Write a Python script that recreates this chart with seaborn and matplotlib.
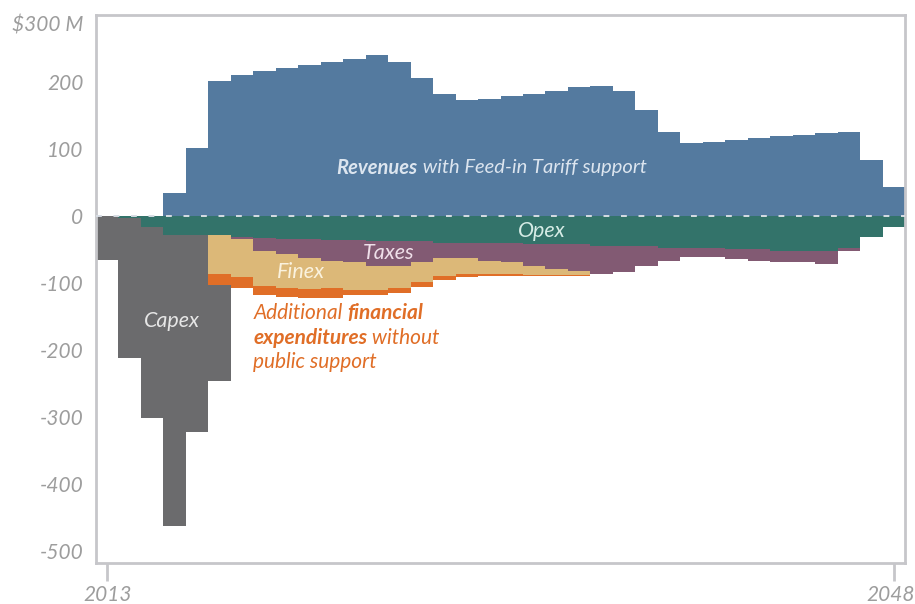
import matplotlib
matplotlib.use("Agg")
import numpy as np
import seaborn as sns
import matplotlib.pyplot as plt
from matplotlib import font_manager, transforms

# values in $ million
years = list(range(2013, 2049))
revenues = [0, 0, 0, 35, 102, 202, 211, 216, 221, 225, 230, 235, 240, 230, 206, 182, 173, 175,
            179, 182, 187, 192, 194, 187, 158, 126, 109, 111, 114, 117, 119, 121, 124, 126, 84, 44]
opex = [0, 3.5, 17, 28.5, 28.5, 28.5, 32, 33, 35, 35, 36, 36, 37, 37, 37, 41, 41, 41,
        41, 42.5, 42.5, 42.5, 45, 45, 45, 48, 48, 48, 49.5, 49.5, 52, 52, 52, 48, 31, 16]
taxes = [0, 0, 0, 0, 0, 0, 3, 19, 22, 27, 31, 33, 37, 37, 32, 21, 21, 26,
         28, 32, 37, 39, 42, 39, 29, 19, 13.5, 13.5, 15, 18, 17, 17, 20, 4, 0, 0]
finex = [0, 0, 0, 0, 0, 58, 56, 53, 51, 47, 41, 41, 36, 34, 30, 27, 25, 20,
         18, 13, 8, 6, 0, 0, 0, 0, 0, 0, 0, 0, 0, 0, 0, 0, 0, 0]
additional = [0, 0, 0, 0, 0, 16.5, 17, 13.5, 12.5, 13, 14, 8.5, 8.5, 6.5, 6.5, 7, 4, 2,
              2, 2, 2, 2, 0, 0, 0, 0, 0, 0, 0, 0, 0, 0, 0, 0, 0, 0]
capex = [65, 209, 284, 434, 294, 144, 0, 0, 0, 0, 0, 0, 0, 0, 0, 0, 0, 0,
         0, 0, 0, 0, 0, 0, 0, 0, 0, 0, 0, 0, 0, 0, 0, 0, 0, 0]

ytick_values = [-500, -400, -300, -200, -100, 0, 100, 200, 300]
ytick_labels = ["-500", "-400", "-300", "-200", "-100", "0", "100", "200", "$300 M"]
xtick_values = [2013, 2048]

colors = {
    "revenues": "#547a9f",
    "opex": "#33736a",
    "taxes": "#825a73",
    "finex": "#dcb878",
    "additional": "#e06e27",
    "capex": "#6b6b6d",
}

sns.set_theme(style="white")
installed = {f.name for f in font_manager.fontManager.ttflist}
narrow = "Liberation Sans Narrow" if "Liberation Sans Narrow" in installed else "Lato"
plt.rcParams["font.family"] = ["Lato", "DejaVu Sans"]

fig = plt.figure(figsize=(9.15, 6.04), dpi=100)
ax = fig.add_axes([96 / 915, 1 - 563 / 604, 809 / 915, 548 / 604])

x = np.array(years)
def draw(vals, bottom, key):
    ax.bar(x, vals, bottom=bottom, width=1.0, color=colors[key],
           linewidth=0, antialiased=False, zorder=2)

draw(revenues, 0, "revenues")
base = np.zeros(len(years))
for key, vals in [("opex", opex), ("taxes", taxes), ("finex", finex),
                  ("additional", additional), ("capex", capex)]:
    v = np.array(vals, dtype=float)
    draw(-v, base, key)
    base = base - v

ax.axhline(0, color="#d6dce3", lw=1.4, dashes=(3, 6), zorder=3)

ax.set_xlim(2012.5, 2048.5)
ax.set_ylim(-518, 300)
for s in ax.spines.values():
    s.set_color("#c6c6ca")
    s.set_linewidth(2)
    s.set_visible(True)

ax.set_yticks(ytick_values)
ax.set_yticklabels(ytick_labels)
ax.set_xticks(xtick_values)
ax.set_xticklabels([str(v) for v in xtick_values])
ax.tick_params(axis="y", length=0, pad=9, labelsize=15, labelcolor="#9d9d9d")
ax.tick_params(axis="x", length=13, width=2, color="#c6c6ca", pad=3,
               labelsize=15, labelcolor="#9d9d9d", bottom=True)
for lab in ax.get_yticklabels() + ax.get_xticklabels():
    lab.set_fontstyle("italic")
ax.get_yticklabels()[-1].set_verticalalignment("top")
last = ax.get_xticklabels()[-1]
last.set_transform(last.get_transform() + transforms.ScaledTranslation(-2 / 72, 0, fig.dpi_scale_trans))

# labels on the areas
lab_kw = dict(family=narrow, style="italic", fontsize=15.5, ha="center", va="center", zorder=5)
ax.text(2032.35, -22, "Opex", color="#d6ece6", **lab_kw)
ax.text(2025.5, -55, "Taxes", color="#efdfe9", **lab_kw)
ax.text(2021.6, -84, "Finex", color="#faf2de", **lab_kw)
ax.text(2015.9, -157, "Capex", color="#e6e6e6", **lab_kw)

fig.canvas.draw()
renderer = fig.canvas.get_renderer()

def rich_line(xd, yd, parts, color, size, center=False):
    # parts: list of (text, weight), laid out one after the other
    widths = []
    for s, w in parts:
        t = ax.text(0, 0, s, family=narrow, style="italic", fontweight=w, fontsize=size)
        widths.append(t.get_window_extent(renderer).width * 72 / fig.dpi)
        t.remove()
    off = -sum(widths) / 2 if center else 0
    for (s, w), wd in zip(parts, widths):
        tr = transforms.offset_copy(ax.transData, fig=fig, x=off, y=0, units="points")
        ax.text(xd, yd, s, transform=tr, family=narrow, style="italic", fontweight=w,
                fontsize=size, color=color, ha="left", va="center", zorder=5)
        off += wd

rich_line(2030.1, 72, [("Revenues", "bold"), (" with Feed-in Tariff support", "normal")],
          "#dce5ef", 14.5, center=True)
orange = "#e06e27"
rich_line(2019.5, -145, [("Additional ", "normal"), ("financial", "bold")], orange, 15)
rich_line(2019.5, -182, [("expenditures", "bold"), (" without", "normal")], orange, 15)
rich_line(2019.5, -218, [("public support", "normal")], orange, 15)

fig.savefig("out.png", dpi=100)
